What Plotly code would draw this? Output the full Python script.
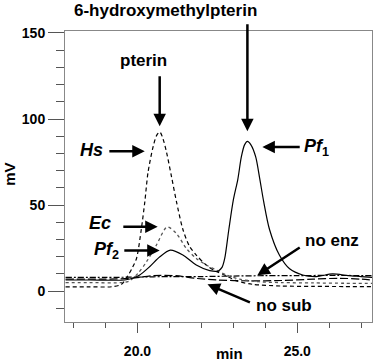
import plotly.graph_objects as go

# ---- data ----
hs_t = [17.75, 18.5, 19.2, 19.5, 19.7, 19.85, 19.97, 20.12, 20.23, 20.33, 20.49, 20.6, 20.7,
        20.8, 20.91, 21.06, 21.22, 21.42, 21.63, 21.84, 22.15, 22.47, 22.78, 23.1, 23.6, 24.5, 25.5, 26.5, 27.34]
hs_v = [2.5, 2.5, 2.6, 4, 9, 14, 19, 36, 52, 69, 84, 90.5, 92.5,
        88.5, 80.6, 67, 52, 36, 26, 21, 15.2, 11.4, 9, 6, 4, 3, 2.8, 2.7, 2.7]

ec_t = [17.75, 18.5, 19.5, 19.75, 20.02, 20.28, 20.59, 20.93, 21.22, 21.53, 21.84, 22.15,
        22.47, 22.78, 23.2, 23.8, 24.5, 25.5, 26.5, 27.34]
ec_v = [5, 5, 5, 6, 10.4, 17, 26.7, 37.3, 33.5, 24.8, 19, 15.2,
        12.3, 9.4, 7, 5.5, 5, 4.8, 4.6, 4.5]

pf2_t = [17.75, 18.5, 19.6, 19.85, 20.07, 20.38, 20.7, 21.03, 21.42, 21.84, 22.26, 22.52]
pf2_v = [6.5, 6.5, 6.5, 7.5, 9.4, 14.2, 20, 23.8, 21, 15.2, 11.9, 11.4]

pf1_t = [22.52, 22.65, 22.73, 22.86, 23.0, 23.14, 23.25, 23.35, 23.44, 23.55, 23.7, 23.82,
         23.95, 24.13, 24.44, 24.76, 25.17, 25.6, 26.1, 26.6, 27.0, 27.34]
pf1_v = [11.4, 14, 19, 36, 53, 65, 78, 85, 87, 85, 78, 66,
         52, 36, 21, 13, 9.4, 8.5, 10, 9, 8.5, 8]

noenz_t = [17.75, 19.0, 20.0, 21.0, 22.0, 23.0, 24.0, 25.0, 26.0, 27.34]
noenz_v = [8, 8, 8.2, 8.5, 8.5, 8.8, 9, 9, 9.2, 9]

nosub_t = [17.75, 19.0, 19.8, 20.5, 21.2, 21.8, 22.5, 23.5, 24.5, 25.5, 26.3, 27.0, 27.34]
nosub_v = [7, 7, 7.5, 9, 9, 7.5, 6.5, 6, 6.2, 7, 7.5, 7, 6.5]

x_tickvals = [20, 25]
x_ticktext = ["20.0", "25.0"]
y_tickvals = [0, 50, 100, 150]
y_ticktext = ["0", "50", "100", "150"]

FONT = "Liberation Sans, Arial, sans-serif"

fig = go.Figure()

def add(t, v, dash, color="black", width=1.2):
    fig.add_trace(go.Scatter(x=t, y=v, mode="lines",
                             line=dict(color=color, width=width, dash=dash, shape="spline", smoothing=0.8),
                             showlegend=False, hoverinfo="skip"))

add(noenz_t, noenz_v, "6px,2px,2px,2px")
add(nosub_t, nosub_v, "8px,3px")
add(hs_t, hs_v, "4px,3px")
add(ec_t, ec_v, "dot", color="#555555", width=1.3)
add(pf2_t, pf2_v, "solid")
add(pf1_t, pf1_v, "solid")

arrow = dict(showarrow=True, arrowhead=2, arrowsize=1.0, arrowwidth=2.5,
             arrowcolor="black", text="", xref="x", yref="y", axref="x", ayref="y", standoff=0)
# (head x, head y, tail x, tail y) in data units
arrows = [
    (23.440, 92.9, 23.440, 156.0),
    (20.695, 95.8, 20.695, 125.8),
    (20.227, 81.3, 19.073, 81.3),
    (20.633, 37.5, 19.510, 37.5),
    (20.695, 23.7, 19.541, 23.7),
    (23.908, 83.7, 25.124, 83.7),
    (23.752, 9.2, 25.124, 26.0),
    (22.192, 4.0, 23.565, -6.9),
]
for x, y, ax, ay in arrows:
    fig.add_annotation(x=x, y=y, ax=ax, ay=ay, **arrow)

def label(text, x, y, size=16, angle=0):
    fig.add_annotation(text=text, x=x, y=y, xref="paper", yref="paper", showarrow=False,
                       xanchor="center", yanchor="middle", textangle=angle,
                       font=dict(family=FONT, size=size, color="black"))

label("<b>6-hydroxymethylpterin</b>", 0.328, 1.07, 17)
label("<b>pterin</b>", 0.2549, 0.8976, 17)
label("<b><i>Hs</i></b>", 0.086, 0.592, 18)
label("<b><i>Ec</i></b>", 0.1136, 0.341, 18)
label("<b><i>Pf</i><sub>2</sub></b>", 0.1347, 0.2457, 18)
label("<b><i>Pf</i><sub>1</sub></b>", 0.8198, 0.6007, 18)
label("<b>no enz</b>", 0.8685, 0.2799, 17)
label("<b>no sub</b>", 0.7143, 0.058, 17)
label("<b>min</b>", 0.5357, -0.109, 15)
label("<b>mV</b>", -0.183, 0.5085, 15, angle=-90)

fig.update_layout(
    width=375, height=361,
    margin=dict(l=65, r=2, t=31, b=37),
    paper_bgcolor="white", plot_bgcolor="white",
    font=dict(family=FONT, color="black"),
    xaxis=dict(range=[17.732, 27.339], showgrid=False, zeroline=False,
               showline=True, linecolor="#888888", linewidth=1, mirror=True,
               tickmode="array", tickvals=x_tickvals, ticktext=x_ticktext,
               ticks="outside", ticklen=10, tickcolor="#555555", tickwidth=1,
               ticklabelstandoff=6,
               tickfont=dict(family=FONT, size=14, weight="bold"),
               minor=dict(dtick=1, tick0=0, ticks="outside", ticklen=5, tickcolor="#555555", tickwidth=1)),
    yaxis=dict(range=[-17.9, 151.15], showgrid=False, zeroline=False,
               showline=True, linecolor="#888888", linewidth=1, mirror=True,
               tickmode="array", tickvals=y_tickvals, ticktext=y_ticktext,
               ticks="outside", ticklen=16, tickcolor="#555555", tickwidth=1,
               tickfont=dict(family=FONT, size=14, weight="bold"),
               minor=dict(dtick=10, tick0=0, ticks="outside", ticklen=8, tickcolor="#555555", tickwidth=1)),
)

fig.write_html("out.html", config={"displayModeBar": False},
               post_script="document.body.style.margin='0px';")
